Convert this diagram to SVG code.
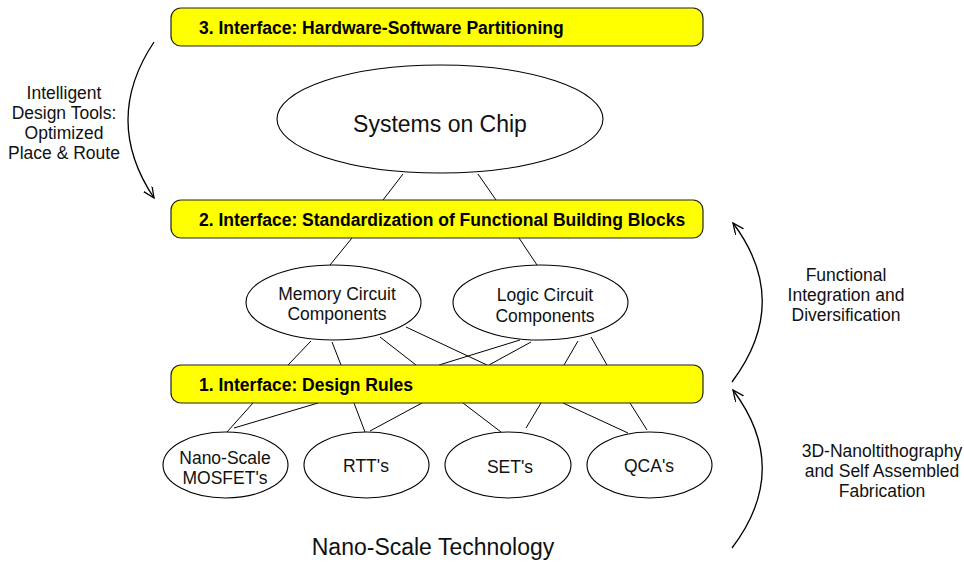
<svg xmlns="http://www.w3.org/2000/svg" width="964" height="562" viewBox="0 0 964 562">
<style>
.bar{fill:#ffff00;stroke:#222;stroke-width:1.2}
.bt{font-family:"Liberation Sans",Arial,sans-serif;font-weight:bold;font-size:17.5px;fill:#000}
.el{fill:#fff;stroke:#000;stroke-width:1.1}
.t{font-family:"Liberation Sans",Arial,sans-serif;font-size:17.5px;fill:#111;text-anchor:middle}
.big{font-family:"Liberation Sans",Arial,sans-serif;font-size:23px;fill:#111;text-anchor:middle}
.ln{stroke:#000;stroke-width:1;fill:none}
.arr{stroke:#000;stroke-width:1.3;fill:none;marker-end:url(#ah)}
</style>
<defs>
<marker id="ah" markerWidth="14" markerHeight="12" refX="11" refY="5" orient="auto" markerUnits="userSpaceOnUse">
<path d="M0,0 L11,5 L0,10" fill="none" stroke="#000" stroke-width="1.3"/>
</marker>
</defs>
<rect width="964" height="562" fill="#fff"/>
<g id="connectors">
<line class="ln" x1="403" y1="174" x2="383" y2="200"/>
<line class="ln" x1="478" y1="174" x2="496" y2="200"/>
<line class="ln" x1="352" y1="238" x2="330" y2="265"/>
<line class="ln" x1="519" y1="238" x2="537" y2="265"/>
<line class="ln" x1="311" y1="341" x2="288" y2="365"/>
<line class="ln" x1="332" y1="342" x2="341" y2="365"/>
<line class="ln" x1="380" y1="337" x2="416" y2="365"/>
<line class="ln" x1="406" y1="327" x2="487" y2="365"/>
<line class="ln" x1="520" y1="340" x2="439" y2="365"/>
<line class="ln" x1="531" y1="342" x2="489" y2="365"/>
<line class="ln" x1="578" y1="341" x2="564" y2="365"/>
<line class="ln" x1="591" y1="337" x2="607" y2="365"/>
<line class="ln" x1="253" y1="403" x2="227" y2="432"/>
<line class="ln" x1="318" y1="403" x2="234" y2="428"/>
<line class="ln" x1="354" y1="403" x2="365" y2="432"/>
<line class="ln" x1="422" y1="403" x2="370" y2="431"/>
<line class="ln" x1="463" y1="403" x2="501" y2="432"/>
<line class="ln" x1="541" y1="403" x2="526" y2="428"/>
<line class="ln" x1="563" y1="403" x2="628" y2="433"/>
<line class="ln" x1="630" y1="403" x2="647" y2="430"/>
<path class="arr" d="M154,42 Q102,120 154,198"/>
<path class="arr" d="M732,382 Q792,302 733,223"/>
<path class="arr" d="M732,548 Q792,469 733,390"/>
</g>
<g id="bar3">
<rect class="bar" x="171" y="8" width="532" height="38" rx="10"/>
<text class="bt" x="199" y="34">3. Interface: Hardware-Software Partitioning</text>
</g>
<g id="soc">
<ellipse class="el" cx="440" cy="119" rx="163" ry="54"/>
<text class="big" x="440" y="132">Systems on Chip</text>
</g>
<g id="bar2">
<rect class="bar" x="171" y="200" width="532" height="38" rx="10"/>
<text class="bt" x="199" y="226">2. Interface: Standardization of Functional Building Blocks</text>
</g>
<g id="memory">
<ellipse class="el" cx="333.5" cy="302.5" rx="87.5" ry="37.5"/>
<text class="t" x="337" y="300">Memory Circuit</text>
<text class="t" x="337" y="320">Components</text>
</g>
<g id="logic">
<ellipse class="el" cx="540.5" cy="302.5" rx="87.5" ry="37.5"/>
<text class="t" x="545" y="301">Logic Circuit</text>
<text class="t" x="545" y="322">Components</text>
</g>
<g id="bar1">
<rect class="bar" x="171" y="365" width="532" height="38" rx="10"/>
<text class="bt" x="199" y="391">1. Interface: Design Rules</text>
</g>
<g id="mosfet">
<ellipse class="el" cx="225.5" cy="465" rx="62.5" ry="33"/>
<text class="t" x="225" y="464">Nano-Scale</text>
<text class="t" x="225" y="484">MOSFET's</text>
</g>
<g id="rtt">
<ellipse class="el" cx="366.5" cy="465" rx="62.5" ry="33"/>
<text class="t" x="366" y="472">RTT's</text>
</g>
<g id="set">
<ellipse class="el" cx="508" cy="465" rx="63" ry="33"/>
<text class="t" x="510" y="473">SET's</text>
</g>
<g id="qca">
<ellipse class="el" cx="649.5" cy="465" rx="62.5" ry="33"/>
<text class="t" x="649" y="472">QCA's</text>
</g>
<g id="labels">
<text class="t" x="64" y="99">Intelligent</text>
<text class="t" x="64" y="119">Design Tools:</text>
<text class="t" x="64" y="139">Optimized</text>
<text class="t" x="64" y="159">Place &amp; Route</text>
<text class="t" x="846" y="281">Functional</text>
<text class="t" x="846" y="301">Integration and</text>
<text class="t" x="846" y="321">Diversification</text>
<text class="t" x="882" y="457">3D-Nanoltithography</text>
<text class="t" x="882" y="477">and Self Assembled</text>
<text class="t" x="882" y="497">Fabrication</text>
<text class="big" x="433" y="555">Nano-Scale Technology</text>
</g>
</svg>
